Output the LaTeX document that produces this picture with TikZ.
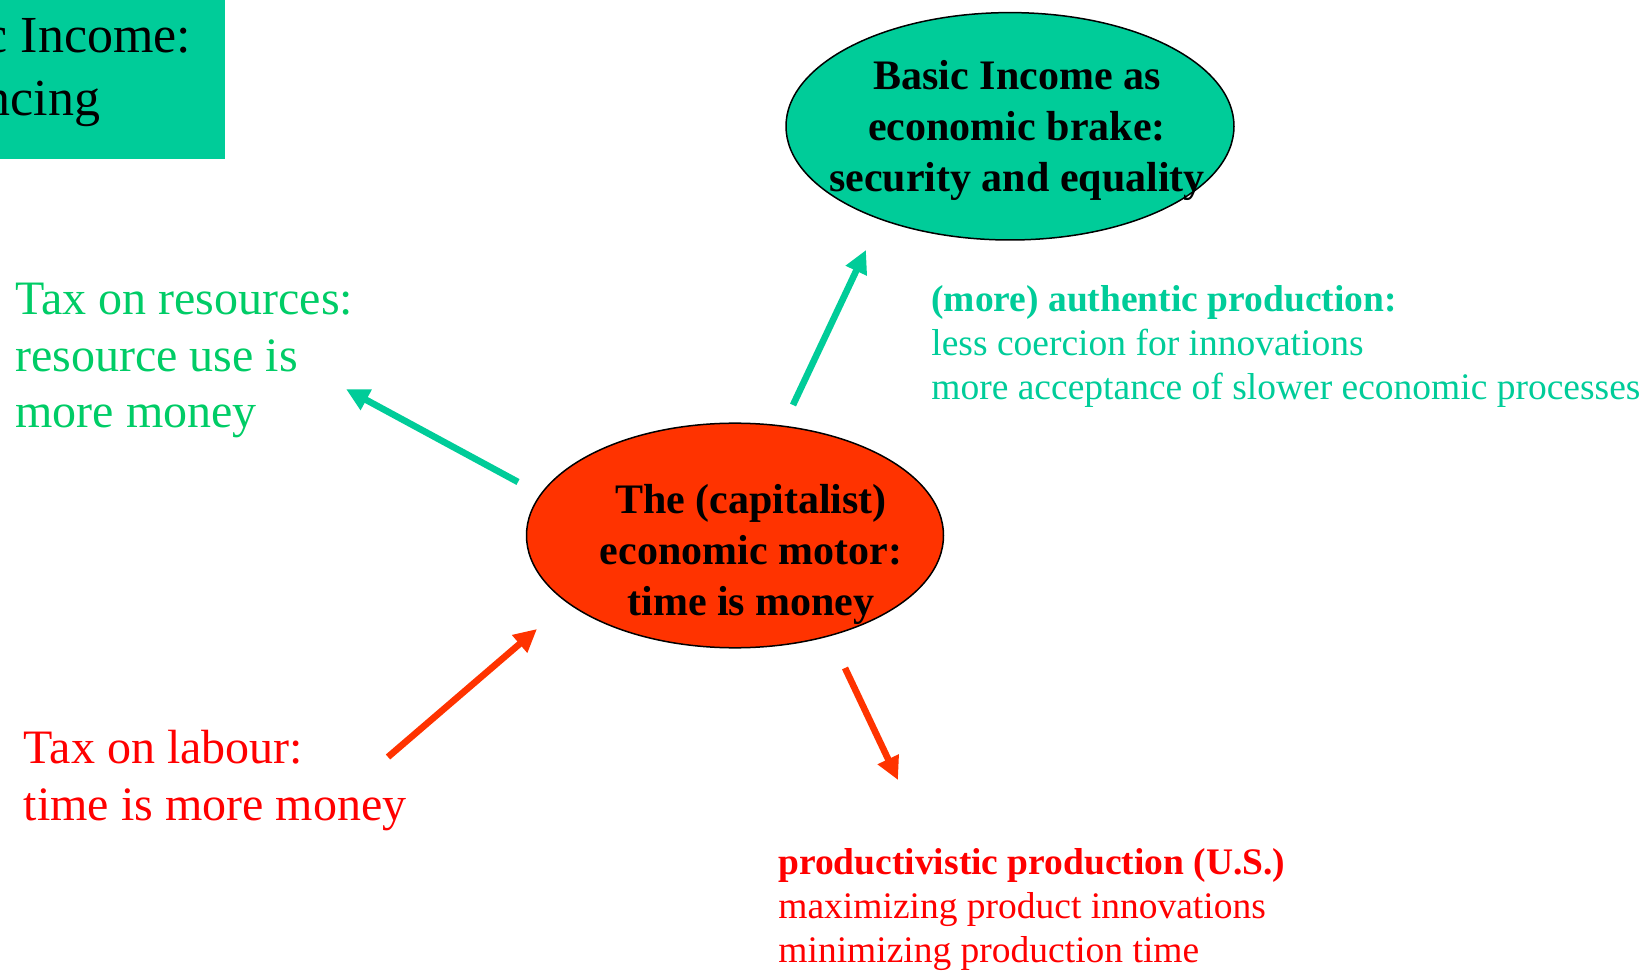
\documentclass[tikz,border=0pt]{standalone}
\usepackage{fontspec}
\setmainfont{Liberation Serif}
\usepackage{tikz}
\usetikzlibrary{shapes.geometric}
\usetikzlibrary{arrows.meta}
\usetikzlibrary{positioning}
\definecolor{bigreen}{RGB}{0,204,153}
\definecolor{taxgreen}{RGB}{0,204,102}
\definecolor{motorred}{RGB}{255,51,0}
\definecolor{taxred}{RGB}{255,0,0}

\begin{document}
\begin{tikzpicture}[%
  x=0.5pt, y=-0.5pt,
  blob/.style={ellipse, draw=black, line width=0.75pt, inner sep=0pt},
  brake blob/.style={blob, fill=bigreen, minimum width=224pt, minimum height=113.7pt},
  motor blob/.style={blob, fill=motorred, minimum width=208.5pt, minimum height=112.3pt},
  blob text/.style={align=center, inner sep=0pt, font=\fontsize{21}{25.5}\selectfont\bfseries},
  tax/.style={align=left, inner sep=0pt, anchor=base west, font=\fontsize{24}{28.25}\selectfont},
  effect/.style={align=left, inner sep=0pt, anchor=base west, font=\fontsize{18.75}{22}\selectfont},
  push/.style={line width=3.3pt, -{Triangle[length=11.5pt,width=11pt]}}
  ]
  \clip (0,0) rectangle (1651,973);

  % Title box, cut off at the page corner
  % (base anchor of a multi-line node = baseline of its last line)
  \fill[bigreen] (-300,-50) rectangle (225.3,159);
  \node[font=\fontsize{26}{31.7}\selectfont, align=left, inner sep=0pt, anchor=base east] (title) at (191.5,116) {Basic Income:\\Financing};

  % The two blobs
  \node[brake blob] (brake) at (1010,126.3) {};
  \node[blob text] (brake-text) at (1017,130) {Basic Income as\\economic brake:\\security and equality};
  \node[motor blob] (motor) at (735,535.5) {};
  \node[blob text] (motor-text) at (751,554.5) {The (capitalist)\\economic motor:\\time is money};

  % Taxes on the left
  \node[tax, text=taxgreen] (res-tax) at (15,428) {Tax on resources:\\resource use is\\more money};
  \node[tax, text=taxred] (lab-tax) at (23.5,820) {Tax on labour:\\time is more money};

  % Kinds of production on the right
  \node[effect, text=bigreen] (authentic) at (931,400) {\textbf{(more) authentic production:}\\less coercion for innovations\\more acceptance of slower economic processes};
  \node[effect, text=taxred] (productive) at (778,962.5) {\textbf{productivistic production (U.S.)}\\maximizing product innovations\\minimizing production time};

  % Arrow ends
  \foreach \name/\x/\y in {res-from/518/482, res-to/346/389,
                           brake-from/793/405, brake-to/866/250,
                           lab-from/388/757, lab-to/537/629,
                           prod-from/845/668, prod-to/898/780}
  \coordinate (\name) at (\x,\y);

  \foreach \source/\dest/\col in {res-from/res-to/bigreen, brake-from/brake-to/bigreen,
                                  lab-from/lab-to/motorred, prod-from/prod-to/motorred}
  \draw[push, draw=\col] (\source) -- (\dest);
\end{tikzpicture}
\end{document}
